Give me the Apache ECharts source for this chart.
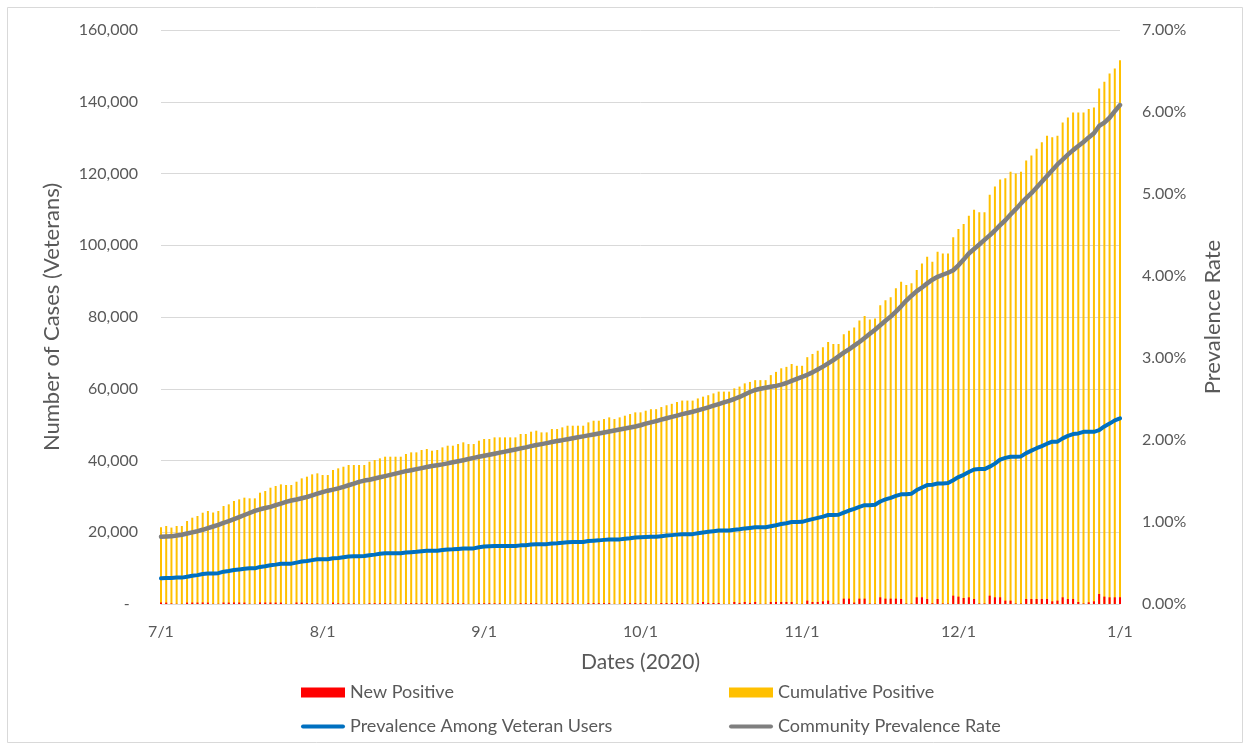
<!DOCTYPE html>
<html>
<head>
<meta charset="utf-8">
<title>Veteran cases and prevalence, Jul 2020 - Jan 2021</title>
<script src="https://cdn.jsdelivr.net/npm/echarts@6/dist/echarts.min.js"></script>
<style>
  html, body { margin: 0; padding: 0; background: #ffffff; }
  #chart { width: 1250px; height: 750px; }
</style>
</head>
<body>
<div id="chart"></div>
<script>
// Daily reporting dates, 7/1/2020 through 1/1/2021
const startDate = Date.UTC(2020, 6, 1);
const dayCount = 185;
const dates = [];
for (let i = 0; i < dayCount; i++) {
  const d = new Date(startDate + i * 86400000);
  dates.push((d.getUTCMonth() + 1) + '/' + d.getUTCDate());
}

// Cumulative positive veterans (left axis)
const cumulativePositive = [
  21370,21740,21300,21740,21740,23130,24060,
  24530,25450,25920,25500,25920,27310,27780,
  28710,29170,29640,29450,29450,31030,31490,
  32420,32890,33350,33170,33170,34090,35020,
  35490,36140,36420,35950,35950,37350,37810,
  38270,38740,38740,38740,38740,39670,40130,
  40600,41060,41060,41060,41060,41810,42270,
  42270,42920,43200,42730,42920,43660,44130,
  44130,44590,45060,44590,44590,45520,45990,
  46000,46450,46450,46450,46450,46450,47380,
  47380,48030,48310,47840,47840,48770,48770,
  49240,49700,49700,49700,49700,50630,51090,
  51090,51560,52020,51560,52020,52490,52950,
  53420,53420,53880,54300,54300,54900,55400,
  55800,56300,56700,56700,56700,57300,57800,
  58200,58700,59200,59200,59200,60100,60600,
  61500,61900,62400,62400,62400,63800,64700,
  65700,66100,66900,66400,66400,68800,69700,
  70600,71600,73000,72500,72500,75200,76200,
  77100,79000,80300,79300,79600,83300,84700,
  85500,88000,89800,88900,89400,93100,94900,
  96800,95400,98200,97700,97700,102200,104500,
  105900,108200,109900,109200,109200,114100,116400,
  118300,118700,120500,120000,120500,123600,125000,
  126900,128700,130500,130100,130500,134200,135600,
  137000,137000,137000,138000,138400,143700,145600,
  147900,149300,151600
];

// New positive veterans per day (left axis)
const newPositive = [
  400,380,150,60,60,380,400,
  390,420,380,80,70,400,380,
  420,400,380,90,60,420,400,
  410,380,390,80,60,400,380,
  200,180,150,60,50,380,200,
  180,160,170,50,50,200,220,
  180,200,190,50,40,210,190,
  200,180,210,50,40,200,220,
  190,210,200,50,40,220,200,
  210,190,180,40,40,60,220,
  200,230,210,50,40,220,200,
  230,210,220,50,40,230,250,
  220,240,230,50,40,250,230,
  260,240,250,60,50,260,250,
  270,260,280,60,50,280,560,
  300,280,290,60,50,560,300,
  560,300,560,60,60,560,560,
  560,560,560,80,70,930,560,
  560,740,930,100,80,1490,1490,
  400,1490,1490,120,100,1860,1490,
  1490,1490,1390,150,120,1860,1860,
  1390,200,1390,150,120,2320,2050,
  1670,1860,1390,150,150,2320,1860,
  1860,930,930,150,120,1390,1390,
  1390,1390,1390,740,930,1860,1390,
  1390,560,150,460,740,2790,2050,
  1860,1860,1860
];

// Prevalence among veteran users, percent (right axis)
const veteranPrevalence = [
  0.313,0.318,0.318,0.322,0.322,0.333,0.345,
  0.352,0.365,0.372,0.372,0.376,0.394,0.402,
  0.414,0.422,0.430,0.435,0.435,0.452,0.460,
  0.472,0.480,0.490,0.490,0.492,0.505,0.518,
  0.525,0.535,0.545,0.545,0.545,0.557,0.562,
  0.570,0.578,0.582,0.582,0.585,0.595,0.602,
  0.612,0.618,0.618,0.618,0.620,0.628,0.632,
  0.636,0.642,0.648,0.648,0.650,0.658,0.664,
  0.667,0.672,0.678,0.678,0.678,0.692,0.700,
  0.703,0.706,0.706,0.706,0.706,0.708,0.715,
  0.717,0.725,0.730,0.730,0.730,0.738,0.742,
  0.748,0.754,0.756,0.756,0.756,0.768,0.772,
  0.776,0.782,0.788,0.788,0.788,0.796,0.802,
  0.810,0.814,0.818,0.820,0.820,0.827,0.834,
  0.840,0.846,0.852,0.852,0.852,0.862,0.872,
  0.880,0.888,0.896,0.896,0.896,0.905,0.912,
  0.922,0.928,0.935,0.935,0.935,0.948,0.960,
  0.975,0.985,1.000,1.000,1.002,1.020,1.035,
  1.050,1.065,1.085,1.085,1.088,1.115,1.140,
  1.160,1.185,1.205,1.205,1.210,1.250,1.275,
  1.295,1.318,1.338,1.338,1.345,1.390,1.420,
  1.450,1.455,1.470,1.470,1.475,1.510,1.548,
  1.575,1.610,1.640,1.645,1.645,1.675,1.712,
  1.760,1.782,1.795,1.795,1.800,1.840,1.870,
  1.900,1.925,1.955,1.980,1.980,2.020,2.050,
  2.072,2.080,2.100,2.100,2.100,2.120,2.165,
  2.200,2.240,2.265
];

// Community prevalence rate, percent (right axis)
const communityPrevalence = [
  0.820,0.822,0.825,0.835,0.845,0.860,0.874,
  0.888,0.905,0.925,0.945,0.965,0.990,1.010,
  1.035,1.060,1.085,1.110,1.135,1.155,1.170,
  1.185,1.205,1.225,1.245,1.262,1.275,1.290,
  1.305,1.325,1.345,1.365,1.382,1.395,1.410,
  1.428,1.448,1.468,1.490,1.505,1.515,1.530,
  1.545,1.560,1.575,1.590,1.605,1.620,1.632,
  1.645,1.657,1.670,1.683,1.693,1.703,1.715,
  1.728,1.741,1.754,1.768,1.782,1.795,1.808,
  1.820,1.833,1.846,1.858,1.872,1.885,1.898,
  1.910,1.925,1.939,1.950,1.962,1.975,1.988,
  1.998,2.010,2.022,2.033,2.044,2.056,2.068,
  2.080,2.092,2.104,2.116,2.128,2.140,2.152,
  2.165,2.180,2.200,2.215,2.230,2.248,2.265,
  2.282,2.298,2.315,2.330,2.345,2.362,2.380,
  2.398,2.418,2.438,2.458,2.478,2.500,2.525,
  2.555,2.585,2.610,2.625,2.638,2.650,2.660,
  2.675,2.695,2.720,2.745,2.770,2.795,2.825,
  2.860,2.895,2.935,2.975,3.020,3.065,3.105,
  3.150,3.195,3.245,3.295,3.345,3.400,3.455,
  3.505,3.565,3.630,3.700,3.760,3.815,3.860,
  3.910,3.955,3.990,4.015,4.040,4.070,4.130,
  4.200,4.275,4.330,4.385,4.440,4.495,4.555,
  4.620,4.680,4.750,4.815,4.885,4.950,5.010,
  5.080,5.150,5.220,5.290,5.360,5.420,5.480,
  5.535,5.585,5.635,5.690,5.740,5.830,5.870,
  5.930,6.010,6.085
];

const seriesNames = ['New Positive', 'Cumulative Positive', 'Prevalence Among Veteran Users', 'Community Prevalence Rate'];

const textColor = '#595959';
const gridColor = '#d9d9d9';
const fontFamily = 'Lato, "Open Sans", sans-serif';
// Rounded bar used as the legend swatch for the two line series
const lineIcon = 'path://M2,0H42A2,2,0,0,1,42,4H2A2,2,0,0,1,2,0Z';

const chart = echarts.init(document.getElementById('chart'), null, { renderer: 'canvas' });

chart.setOption({
  animation: false,
  backgroundColor: '#ffffff',
  textStyle: { fontFamily: fontFamily, color: textColor },
  graphic: [{
    type: 'rect',
    shape: { x: 7.5, y: 7.5, width: 1235, height: 735 },
    style: { fill: 'none', stroke: '#d9d9d9', lineWidth: 1 },
    silent: true,
    z: -10
  }],
  grid: { left: 161, right: 130, top: 30, bottom: 146, containLabel: false },
  legend: [
    {
      orient: 'vertical',
      left: 301, top: 683, padding: 0,
      itemWidth: 44, itemHeight: 10, itemGap: 15,
      textStyle: { fontSize: 18, color: textColor, fontFamily: fontFamily, lineHeight: 19 },
      data: [
        { name: seriesNames[0], icon: 'rect' },
        { name: seriesNames[2], icon: lineIcon }
      ]
    },
    {
      orient: 'vertical',
      left: 729, top: 683, padding: 0,
      itemWidth: 44, itemHeight: 10, itemGap: 15,
      textStyle: { fontSize: 18, color: textColor, fontFamily: fontFamily, lineHeight: 19 },
      data: [
        { name: seriesNames[1], icon: 'rect' },
        { name: seriesNames[3], icon: lineIcon }
      ]
    }
  ],
  xAxis: {
    type: 'category',
    data: dates,
    boundaryGap: false,
    name: 'Dates (2020)',
    nameLocation: 'middle',
    nameGap: 48,
    nameTextStyle: { fontSize: 21, color: textColor, fontFamily: fontFamily },
    axisLine: { show: true, lineStyle: { color: gridColor, width: 1 } },
    axisTick: { show: false },
    axisLabel: {
      interval: function (index, value) { return value.split('/')[1] === '1'; },
      margin: 20,
      fontSize: 16,
      color: textColor,
      fontFamily: fontFamily
    },
    splitLine: { show: false }
  },
  yAxis: [
    {
      type: 'value',
      min: 0, max: 160000, interval: 20000,
      name: 'Number of Cases (Veterans)',
      nameLocation: 'middle',
      nameRotate: 90,
      nameGap: 98,
      nameTextStyle: { fontSize: 22, color: textColor, fontFamily: fontFamily },
      axisLine: { show: false },
      axisTick: { show: false },
      axisLabel: {
        margin: 23,
        fontSize: 16,
        color: textColor,
        fontFamily: fontFamily,
        formatter: function (v) { return v === 0 ? '-  ' : v.toLocaleString('en-US'); }
      },
      splitLine: { show: true, lineStyle: { color: gridColor, width: 1 } }
    },
    {
      type: 'value',
      min: 0, max: 7, interval: 1,
      position: 'right',
      name: 'Prevalence Rate',
      nameLocation: 'middle',
      nameRotate: 90,
      nameGap: 82,
      nameTextStyle: { fontSize: 22, color: textColor, fontFamily: fontFamily },
      axisLine: { show: false },
      axisTick: { show: false },
      axisLabel: {
        margin: 22,
        fontSize: 16,
        color: textColor,
        fontFamily: fontFamily,
        formatter: function (v) { return v.toFixed(2) + '%'; }
      },
      splitLine: { show: false }
    }
  ],
  series: [
    {
      name: seriesNames[1],
      type: 'bar',
      yAxisIndex: 0,
      data: cumulativePositive,
      barWidth: 2,
      barGap: '-100%',
      clip: false,
      itemStyle: { color: '#FFC000' },
      z: 2
    },
    {
      name: seriesNames[0],
      type: 'bar',
      yAxisIndex: 0,
      data: newPositive,
      barWidth: 2,
      barGap: '-100%',
      clip: false,
      itemStyle: { color: '#FF0000' },
      z: 3
    },
    {
      name: seriesNames[2],
      type: 'line',
      yAxisIndex: 1,
      data: veteranPrevalence,
      showSymbol: false,
      symbol: 'none',
      itemStyle: { color: '#0070C0' },
      lineStyle: { color: '#0070C0', width: 4, cap: 'round', join: 'round' },
      z: 5
    },
    {
      name: seriesNames[3],
      type: 'line',
      yAxisIndex: 1,
      data: communityPrevalence,
      showSymbol: false,
      symbol: 'none',
      itemStyle: { color: '#7F7F7F' },
      lineStyle: { color: '#7F7F7F', width: 4.5, cap: 'round', join: 'round' },
      z: 5
    }
  ]
});
</script>
</body>
</html>
